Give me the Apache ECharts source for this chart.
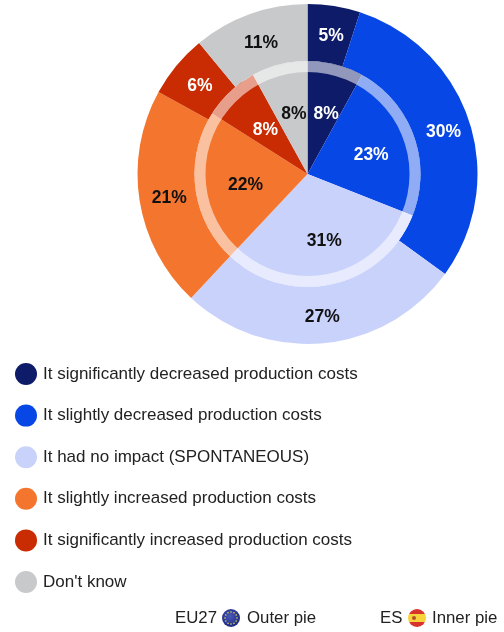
<!DOCTYPE html>
<html>
<head>
<meta charset="utf-8">
<style>html,body{margin:0;padding:0;background:#fff}#c{width:504px;height:632px}</style>
<script src="https://cdn.jsdelivr.net/npm/echarts@6/dist/echarts.min.js"></script>
</head>
<body>
<div id="c"></div>
<script>
const categories = ["It significantly decreased production costs","It slightly decreased production costs","It had no impact (SPONTANEOUS)","It slightly increased production costs","It significantly increased production costs","Don't know"];
const eu27Outer = [5,30,27,21,6,11];
const esInner = [8,23,31,22,8,8];
const colors = ["#0e1b68","#0747e6","#c9d2fb","#f4762e","#c92b02","#c8c9cb"];
const labelColors = ["#fff","#fff","#111","#111","#fff","#111"];
const CX = 307.5, CY = 174;
const FONT = "'Liberation Sans', Arial, sans-serif";

const toData = vals => vals.map((v,i)=>({
  name: categories[i], value: v,
  itemStyle:{color:colors[i]},
  label:{color:labelColors[i]}
}));
const radialLayout = (r,sx,sy) => p => {
  const lx=p.labelRect.x+p.labelRect.width/2-CX, ly=p.labelRect.y+p.labelRect.height/2-CY;
  const k=r/Math.hypot(lx,ly)-1;
  return {dx:lx*k+sx,dy:ly*k+sy};
};
const pieBase = {
  type:'pie', center:[CX,CY], startAngle:90, clockwise:true,
  avoidLabelOverlap:false, labelLine:{show:false}, silent:true,
  label:{show:true, position:'inside', formatter:'{c}%', fontFamily:FONT, fontWeight:'bold', fontSize:17.5},
  emphasis:{disabled:true}
};
const stars = [];
for(let i=0;i<12;i++){
  const a=i*Math.PI/6;
  stars.push({type:'circle',z:11,shape:{cx:231+6*Math.cos(a),cy:618+6*Math.sin(a),r:0.8},style:{fill:'#e6d84a'}});
}
const txt=(s,x)=>({type:'text',x:x,y:618,style:{text:s,fontFamily:FONT,fontSize:16.8,fill:'#222',textVerticalAlign:'middle'}});
const chart = echarts.init(document.getElementById('c'),null,{renderer:'canvas'});
chart.setOption({
  animation:false,
  backgroundColor:'#fff',
  legend:{
    orient:'vertical', left:10, top:358, data:categories, icon:'circle',
    itemWidth:22, itemHeight:22, itemGap:19.6, selectedMode:false,
    textStyle:{fontFamily:FONT,fontSize:17,color:'#222',padding:[0,0,0,1]}
  },
  series:[
    Object.assign({},pieBase,{name:'EU27',radius:[113,170],data:toData(eu27Outer),z:2,
      labelLayout:radialLayout(141.5,1.5,2.3)}),
    Object.assign({},pieBase,{name:'ES',radius:[0,113],data:toData(esInner),z:3,
      labelLayout:radialLayout(65,2.5,3.5)}),
    {type:'pie',name:'ring',center:[CX,CY],radius:[102,113],silent:true,z:4,
     label:{show:false},labelLine:{show:false},emphasis:{disabled:true},
     data:[{name:'ring',value:1,itemStyle:{color:'rgba(255,255,255,0.55)'}}]}
  ],
  graphic:[
    txt('EU27',175),
    {type:'circle',z:10,shape:{cx:231,cy:618,r:9},style:{fill:new echarts.graphic.RadialGradient(0.45,0.4,0.6,[{offset:0,color:'#4a58b8'},{offset:1,color:'#1d2a86'}])}},
    ...stars,
    txt('Outer pie',247),
    txt('ES',380),
    {type:'circle',z:10,shape:{cx:417,cy:618,r:9},style:{fill:new echarts.graphic.LinearGradient(0,0,0,1,[{offset:0,color:'#d9342b'},{offset:0.27,color:'#d9342b'},{offset:0.27,color:'#f7d33c'},{offset:0.73,color:'#f7d33c'},{offset:0.73,color:'#d9342b'},{offset:1,color:'#d9342b'}])}},
    {type:'circle',z:11,shape:{cx:414,cy:618,r:2},style:{fill:'#b5502f'}},
    txt('Inner pie',432)
  ]
});
</script>
</body>
</html>
